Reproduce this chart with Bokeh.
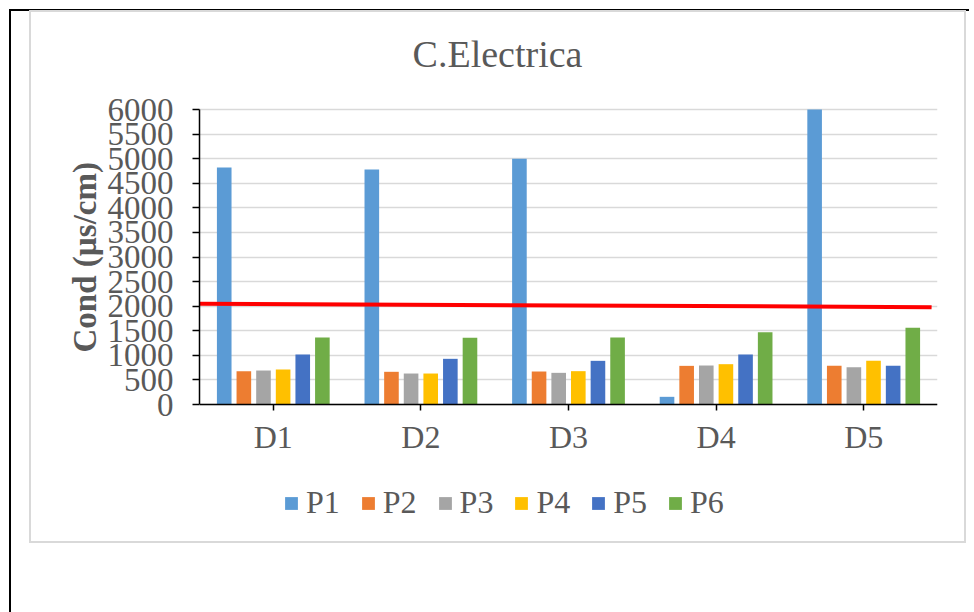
from bokeh.plotting import figure
from bokeh.models import (FactorRange, Range1d, FixedTicker, Legend, LegendItem,
                          InlineStyleSheet, Label, Title)
from bokeh.transform import dodge
from bokeh.embed import file_html
from bokeh.resources import INLINE

# ---- data ----
categories = ["D1", "D2", "D3", "D4", "D5"]
series_names = ["P1", "P2", "P3", "P4", "P5", "P6"]
P1 = [4820, 4780, 5000, 156, 6000]
P2 = [677, 665, 671, 786, 786]
P3 = [691, 630, 644, 793, 759]
P4 = [712, 630, 678, 820, 888]
P5 = [1017, 929, 888, 1017, 786]
P6 = [1363, 1356, 1363, 1471, 1559]
series_values = [P1, P2, P3, P4, P5, P6]
colors = ["#5B9BD5", "#ED7D31", "#A5A5A5", "#FFC000", "#4472C4", "#70AD47"]
y_ticks = list(range(0, 6001, 500))
y_max = 6000
ref_line_x = [0.0, 4.96]
ref_line_y = [2050, 1980]
chart_title = "C.Electrica"
y_title = "Cond (\u00b5s/cm)"

TXT = "#595959"
FONT = "Liberation Serif"

# layout (pixels): frame spans the full height used; plot area maps 0..6000 to 404..109 px
W, H = 974, 612
LEFT_PX, RIGHT_PX = 199, 937
TOP_PX, ZERO_PX, FRAME_BOTTOM = 109, 404, 540
px_per_unit = (ZERO_PX - TOP_PX) / y_max
y_start = -(FRAME_BOTTOM - ZERO_PX) / px_per_unit
y_end = y_max + TOP_PX / px_per_unit

def px_to_y(py):
    return (ZERO_PX - py) / px_per_unit

def px_to_x(px):
    return (px - LEFT_PX) / ((RIGHT_PX - LEFT_PX) / len(categories))

p = figure(width=W, height=H, x_range=FactorRange(*categories, range_padding=0),
           y_range=Range1d(y_start, y_end), output_backend="svg", toolbar_location=None,
           min_border_left=LEFT_PX, min_border_right=W - RIGHT_PX, min_border_top=0,
           min_border_bottom=H - FRAME_BOTTOM, title_location=None)
p.background_fill_color = "white"
p.border_fill_color = "white"
p.outline_line_color = None

data = {"cat": categories}
for n, v in zip(series_names, series_values):
    data[n] = v

pitch = 0.133
renderers = []
for i, (n, c) in enumerate(zip(series_names, colors)):
    r = p.vbar(x=dodge("cat", (i - 2.5) * pitch, range=p.x_range), top=n, width=0.099,
               source=data, fill_color=c, line_color=None)
    renderers.append(r)

p.line(ref_line_x, ref_line_y, line_color="#FF0000", line_width=4)

# axes
p.yaxis.ticker = FixedTicker(ticks=y_ticks)
p.yaxis.bounds = (0, y_max)
p.yaxis.major_label_text_font = FONT
p.yaxis.major_label_text_font_size = "33px"
p.yaxis.major_label_text_color = TXT
p.yaxis.axis_line_color = "black"
p.yaxis.axis_line_width = 1.5
p.yaxis.major_tick_line_color = "black"
p.yaxis.major_tick_line_width = 1.5
p.yaxis.major_tick_out = 7
p.yaxis.major_tick_in = 0
p.yaxis.minor_tick_line_color = None
p.yaxis.major_label_standoff = 19

p.xaxis.fixed_location = 0
p.xaxis.major_label_text_font = FONT
p.xaxis.major_label_text_font_size = "32px"
p.xaxis.major_label_text_color = TXT
p.xaxis.axis_line_color = "black"
p.xaxis.axis_line_width = 1.5
p.xaxis.major_tick_line_color = "black"
p.xaxis.major_tick_line_width = 1.5
p.xaxis.major_tick_out = 6
p.xaxis.major_tick_in = 0
p.xaxis.major_label_standoff = 8

p.xgrid.grid_line_color = None
p.ygrid.grid_line_color = "#D9D9D9"
p.ygrid.grid_line_width = 1.5

# y axis title (left panel, placed along the 0..6000 span)
p.add_layout(Title(text=y_title, align="left", offset=FRAME_BOTTOM - 352, standoff=4,
                   text_font=FONT, text_font_size="33px", text_font_style="bold",
                   text_color=TXT), "left")

# chart title
p.add_layout(Label(x=px_to_x(497), y=px_to_y(53), text=chart_title,
                   text_font=FONT, text_font_size="38px", text_color=TXT,
                   text_align="center", text_baseline="alphabetic"))

# legend (inside the frame, under the category labels)
legend = Legend(items=[LegendItem(label=n, renderers=[r]) for n, r in zip(series_names, renderers)],
                orientation="horizontal", location=(84, 19),
                glyph_width=16, glyph_height=16, label_standoff=7, spacing=20,
                label_text_font=FONT, label_text_font_size="32px", label_text_color=TXT,
                padding=0, margin=0, border_line_color=None, background_fill_alpha=0)
p.add_layout(legend, "center")

# decorative page frame (chart border and document edge)
css = """
:host::after { content: ""; position: absolute; left: 29px; top: 10px; width: 937px; height: 533px;
  border: 2px solid #D9D9D9; box-sizing: border-box; pointer-events: none; z-index: 10; }
:host::before { content: ""; position: absolute; left: 9px; top: 9px; width: 960px; height: 620px;
  border-left: 2px solid #000000; border-top: 2px solid #000000; box-sizing: border-box;
  pointer-events: none; z-index: 10; }
"""
p.stylesheets = [InlineStyleSheet(css=css)]

open("out.html", "w").write(file_html(p, INLINE))
